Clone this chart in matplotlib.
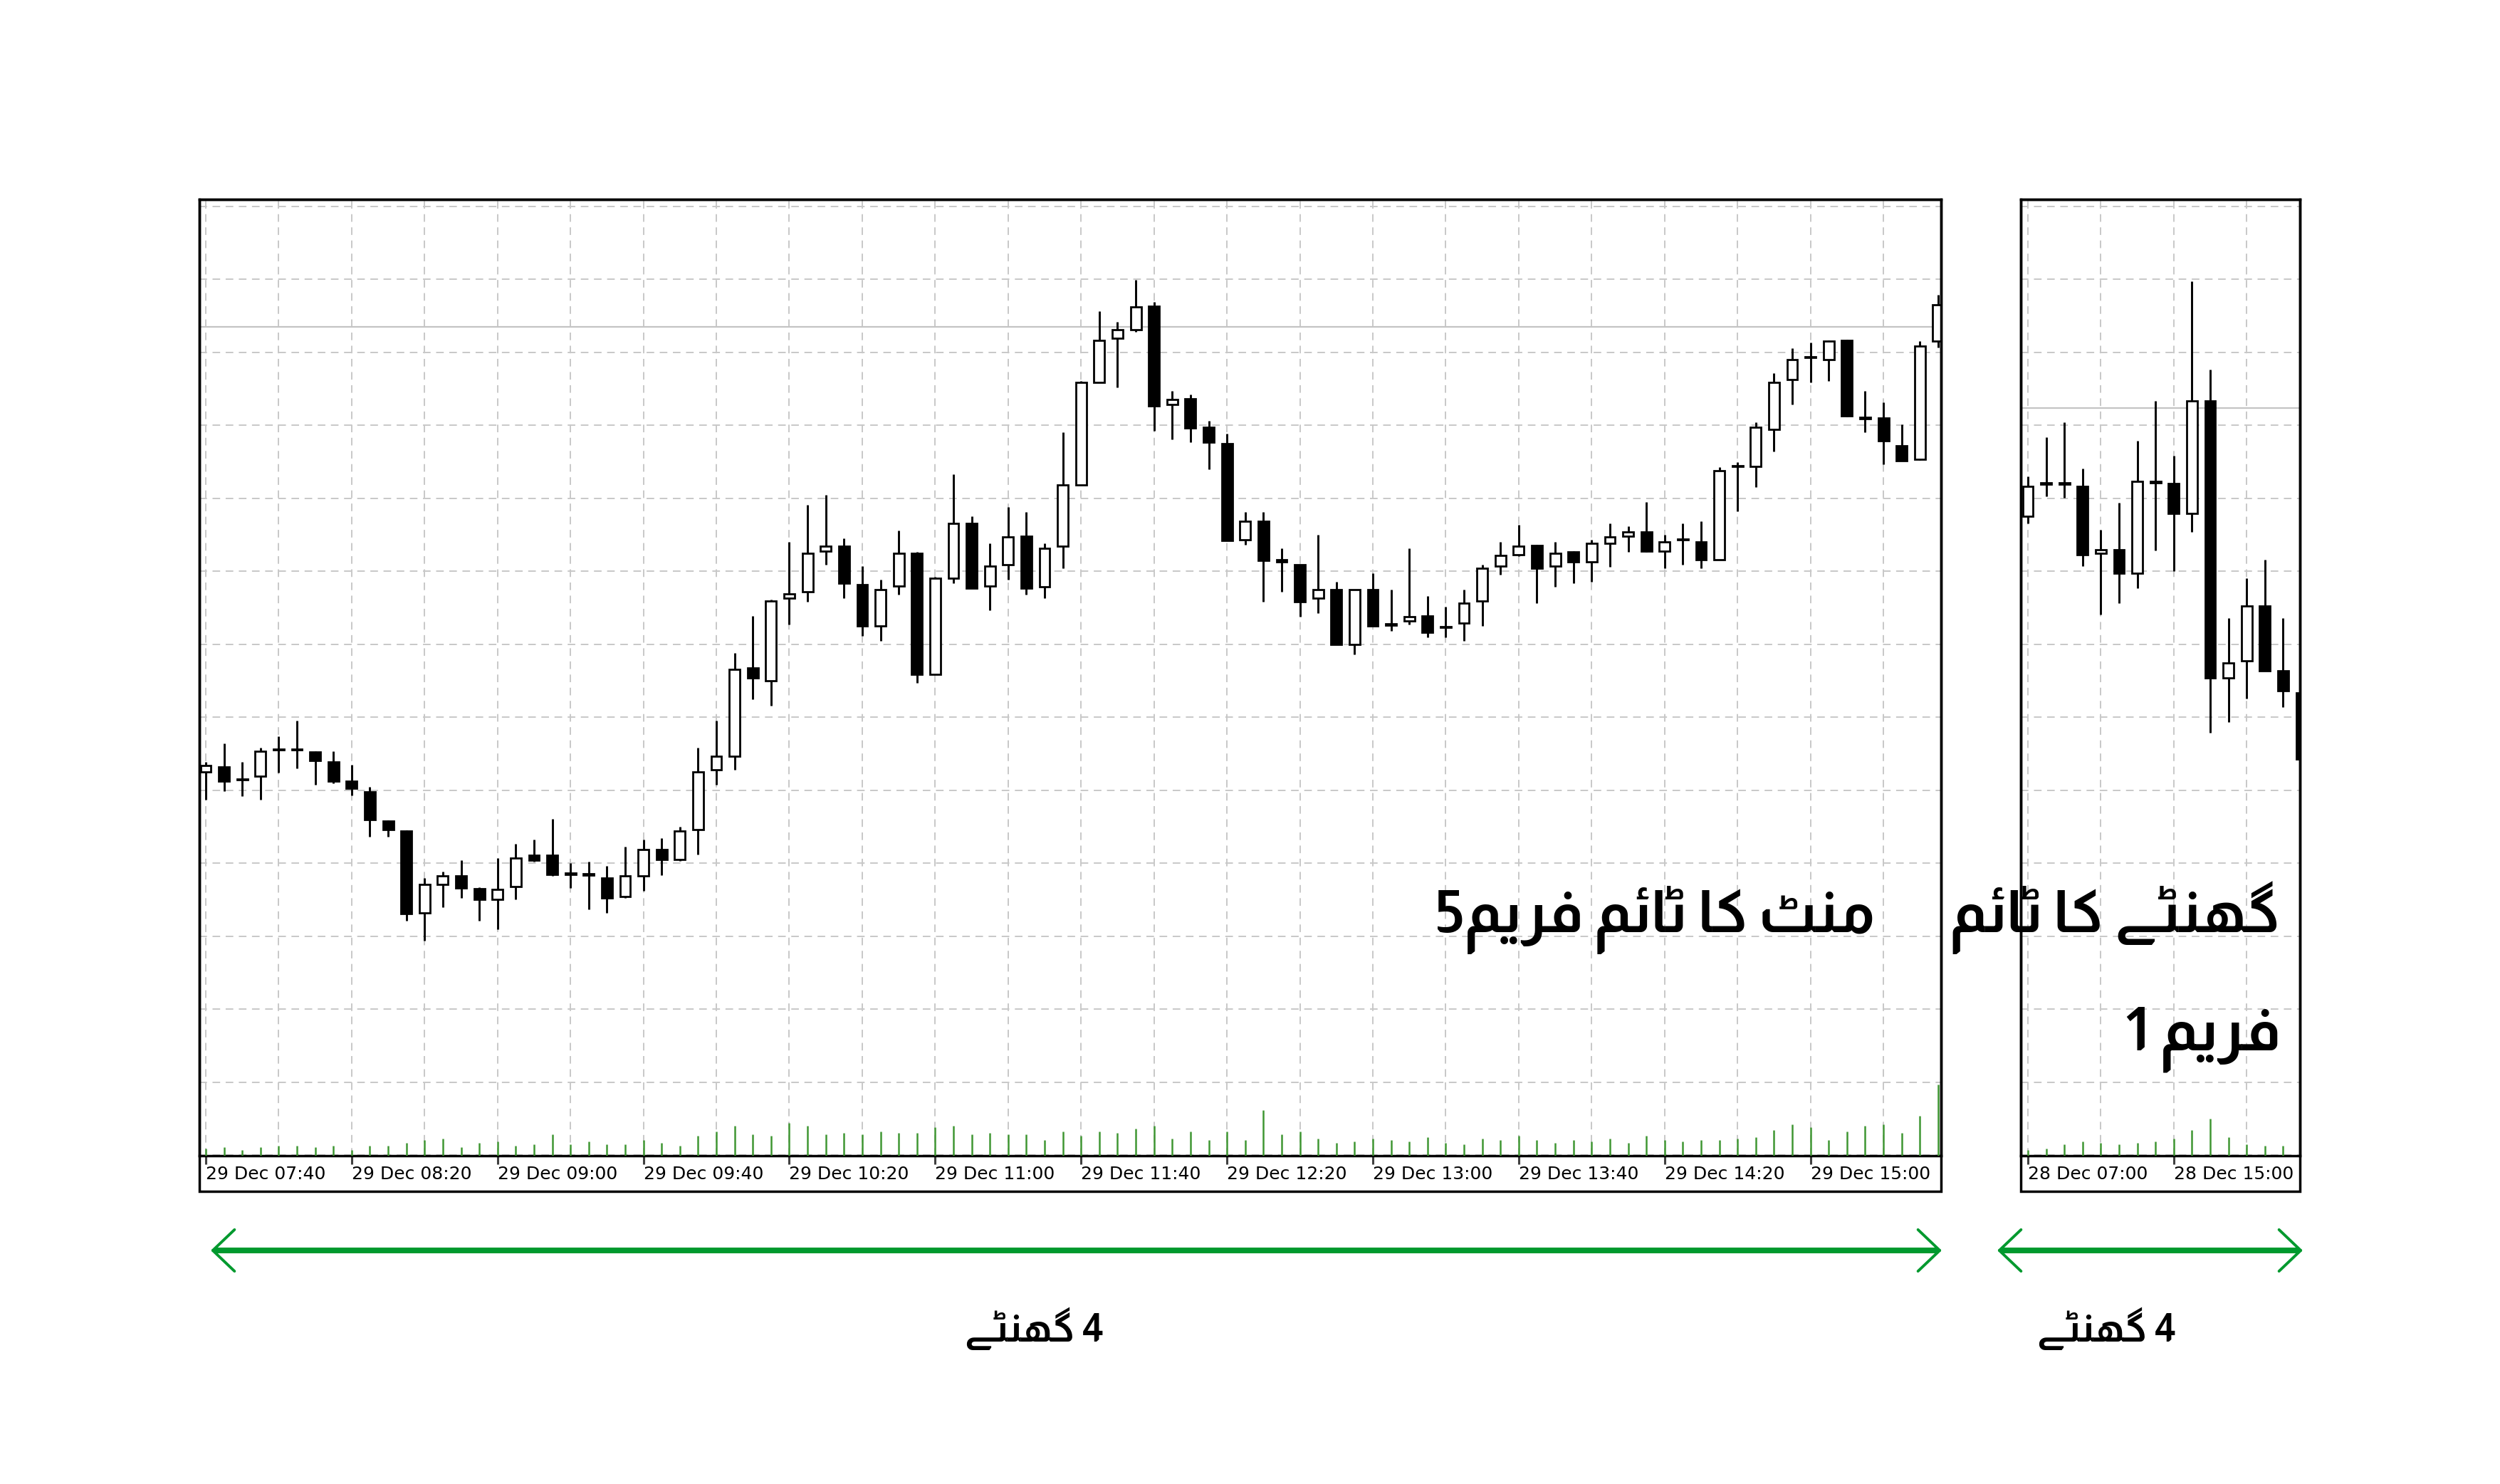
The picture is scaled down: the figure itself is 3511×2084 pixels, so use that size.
import numpy as np
import matplotlib
matplotlib.use("Agg")
import matplotlib.pyplot as plt
from matplotlib.patches import Rectangle, FancyArrowPatch
from matplotlib.lines import Line2D
from matplotlib.transforms import ScaledTranslation

# ---- data: M5 candles, 29 Dec from 07:40 (price in chart points) ----
m5_open = [840, 850, 826, 832, 886, 886, 880, 860, 822, 800,
           742, 722, 558, 615, 632, 607, 585, 610, 673, 673,
           637, 636, 628, 590, 632, 685, 665, 725, 845, 872,
           1048, 1022, 1188, 1200, 1282, 1292, 1215, 1132, 1212, 1278,
           1035, 1228, 1338, 1212, 1255, 1312, 1210, 1292, 1415, 1620,
           1708, 1725, 1772, 1575, 1587, 1530, 1497, 1305, 1342, 1265,
           1255, 1188, 1205, 1095, 1205, 1137, 1142, 1152, 1131, 1138,
           1182, 1252, 1275, 1293, 1252, 1280, 1260, 1298, 1312, 1320,
           1282, 1306, 1300, 1265, 1453, 1452, 1525, 1625, 1671, 1665,
           1703, 1549, 1548, 1493, 1465, 1702]
m5_high = [860, 897, 860, 888, 912, 942, 882, 882, 855, 810,
           743, 723, 628, 640, 663, 609, 668, 696, 705, 746,
           658, 660, 652, 690, 705, 708, 730, 888, 942, 1078,
           1152, 1185, 1300, 1375, 1395, 1307, 1252, 1225, 1323, 1280,
           1230, 1435, 1352, 1298, 1370, 1360, 1298, 1520, 1622, 1762,
           1740, 1825, 1780, 1602, 1595, 1543, 1517, 1360, 1360, 1288,
           1255, 1315, 1220, 1205, 1238, 1205, 1288, 1192, 1170, 1205,
           1255, 1300, 1335, 1295, 1300, 1282, 1305, 1338, 1332, 1380,
           1315, 1338, 1342, 1450, 1460, 1540, 1638, 1688, 1700, 1704,
           1705, 1602, 1580, 1535, 1702, 1795]
m5_low = [785, 802, 792, 785, 838, 847, 815, 817, 793, 710,
          710, 542, 502, 570, 588, 542, 525, 585, 660, 632,
          608, 565, 558, 588, 602, 634, 662, 675, 815, 845,
          985, 973, 1135, 1180, 1255, 1188, 1112, 1102, 1195, 1018,
          1035, 1218, 1208, 1163, 1225, 1195, 1188, 1248, 1414, 1619,
          1610, 1720, 1522, 1505, 1500, 1445, 1303, 1295, 1180, 1200,
          1150, 1158, 1095, 1075, 1132, 1122, 1135, 1110, 1110, 1102,
          1132, 1235, 1272, 1178, 1210, 1218, 1220, 1250, 1280, 1280,
          1248, 1255, 1248, 1264, 1362, 1410, 1482, 1575, 1620, 1622,
          1551, 1520, 1455, 1463, 1464, 1690]
m5_close = [853, 822, 824, 882, 884, 884, 863, 822, 807, 745,
            725, 557, 615, 632, 608, 585, 605, 667, 663, 635,
            635, 634, 588, 632, 685, 665, 722, 840, 872, 1045,
            1028, 1182, 1197, 1278, 1292, 1218, 1132, 1205, 1278, 1035,
            1228, 1338, 1208, 1252, 1310, 1208, 1288, 1415, 1620, 1703,
            1725, 1770, 1573, 1585, 1528, 1500, 1303, 1342, 1263, 1261,
            1180, 1205, 1095, 1205, 1132, 1134, 1150, 1120, 1129, 1178,
            1248, 1273, 1292, 1248, 1278, 1260, 1297, 1310, 1320, 1282,
            1300, 1304, 1265, 1443, 1451, 1530, 1620, 1665, 1669, 1702,
            1552, 1547, 1502, 1463, 1692, 1775]
m5_volume = [10, 12, 8, 12, 14, 14, 12, 14, 8, 14, 14, 18, 22, 24, 12, 18, 20, 14, 16, 30,
             16, 20, 16, 16, 22, 18, 14, 28, 34, 42, 30, 28, 46, 42, 30, 32, 30, 34, 32, 32,
             40, 42, 30, 32, 30, 30, 22, 34, 28, 34, 32, 38, 42, 24, 34, 22, 34, 22, 64, 30,
             34, 24, 18, 20, 24, 22, 20, 26, 18, 16, 24, 22, 28, 22, 18, 22, 20, 24, 18, 28,
             22, 20, 22, 22, 24, 26, 36, 44, 40, 22, 34, 42, 44, 32, 56, 100]
m5_bid = 1730
m5_labels = ['29 Dec 07:40', '29 Dec 08:20', '29 Dec 09:00', '29 Dec 09:40',
             '29 Dec 10:20', '29 Dec 11:00', '29 Dec 11:40', '29 Dec 12:20',
             '29 Dec 13:00', '29 Dec 13:40', '29 Dec 14:20', '29 Dec 15:00']

# ---- data: H1 candles, 28 Dec from 07:00 ----
h1_open = [1352, 1418, 1418, 1412, 1278, 1285, 1238, 1421, 1417, 1358, 1582, 1028, 1062, 1172, 1043, 998]
h1_high = [1432, 1510, 1540, 1447, 1325, 1378, 1503, 1583, 1473, 1822, 1645, 1148, 1227, 1265, 1148, 1000]
h1_low = [1338, 1392, 1388, 1252, 1155, 1178, 1208, 1283, 1242, 1320, 918, 940, 987, 1042, 970, 860]
h1_close = [1412, 1416, 1416, 1275, 1285, 1238, 1422, 1419, 1358, 1582, 1028, 1058, 1172, 1042, 1002, 865]
h1_volume = [8, 10, 16, 20, 18, 16, 18, 20, 24, 36, 52, 26, 16, 14, 14, 14]
h1_bid = 1568
h1_labels = ['28 Dec 07:00', '28 Dec 15:00']

# ---- Urdu captions, pre-shaped (presentation forms, visual order) ----
w_mint = '\uFB67\uFEE8\uFEE3'             # منٹ
w_ka = '\uFE8E\uFB90'                     # کا
w_time = '\uFEE2\uFE8B\uFE8E\uFB68'       # ٹائم
w_frame = '\uFEE2\uFBFE\uFEAE\uFED3'      # فریم
w_ghante = '\uFBAF\uFB69\uFEE8\uFBAD\uFB94'  # گھنٹے
title_m5 = '5' + w_frame + ' ' + w_time + ' ' + w_ka + ' ' + w_mint
title_h1_a = w_time + ' ' + w_ka + ' ' + w_ghante
title_h1_b = '1 ' + w_frame
span_label = w_ghante + ' 4'

W, H = 3512, 2084
fig = plt.figure(figsize=(W / 100, H / 100), dpi=100)
fig.patch.set_facecolor('white')

GREEN = '#00992e'
GRID = '#c8c8c8'
grid_levels = 1971.5 - 146.06 * np.arange(14)
body_w = 0.58


def px_box(x0, y0, x1, y1):
    return [x0 / W, 1 - y1 / H, (x1 - x0) / W, (y1 - y0) / H]


def draw_chart(rect, o, h, l, c, vol, bid, labels, xlim):
    ax = fig.add_axes(rect)
    o, h, l, c = map(np.asarray, (o, h, l, c))
    x = np.arange(len(o))

    ax.set_xlim(*xlim)
    ax.set_ylim(72.7, 1985.75)

    # grid
    ax.set_yticks(grid_levels)
    ax.set_yticklabels([])
    ax.set_xticks(np.arange(0, len(o), 8))
    ax.set_xticks(np.arange(4, len(o), 8), minor=True)
    ax.set_xticklabels(labels, fontsize=18, family='DejaVu Sans')
    for lbl in ax.get_xticklabels():
        lbl.set_horizontalalignment('left')
        lbl.set_transform(lbl.get_transform() + ScaledTranslation(0.03, 0, fig.dpi_scale_trans))
    ax.grid(True, which='both', axis='x', color=GRID, lw=1.4, ls=(0, (5.5, 4)), zorder=0)
    ax.grid(True, which='major', axis='y', color=GRID, lw=1.4, ls=(0, (5.5, 4)), zorder=0)
    ax.set_axisbelow(True)
    ax.tick_params(axis='y', length=0)
    ax.tick_params(axis='x', which='major', length=8.5, width=2.2, color='#404040', pad=2)
    ax.tick_params(axis='x', which='minor', length=0)
    for sp in ax.spines.values():
        sp.set_linewidth(2.5)
        sp.set_color('black')

    # bid line
    ax.axhline(bid, color='#c4c4c4', lw=1.6, zorder=1)

    # candles
    ax.vlines(x, l, h, color='black', lw=2.1, zorder=3)
    up = c >= o
    bottom = np.minimum(o, c)
    height = np.maximum(np.abs(c - o), 1.0)
    ax.bar(x, height, body_w, bottom, color=np.where(up, 'white', 'black'),
           edgecolor='black', lw=2.0, zorder=4)

    # tick volumes
    vax = ax.twinx()
    vax.set_ylim(0, 1342.5)
    vax.vlines(x, 0, vol, color='#3f9632', lw=1.8)
    vax.set_axis_off()
    return ax


draw_chart(px_box(280, 280, 2726, 1622.5), m5_open, m5_high, m5_low, m5_close,
           m5_volume, m5_bid, m5_labels, (-0.351, 95.16))
draw_chart(px_box(2838, 280, 3230, 1622.5), h1_open, h1_high, h1_low, h1_close,
           h1_volume, h1_bid, h1_labels, (-0.39, 14.92))

# outer frames around chart + time strip
for x0, x1 in [(280, 2726), (2838, 3230)]:
    b = px_box(x0, 280, x1, 1673)
    fig.add_artist(Rectangle((b[0], b[1]), b[2], b[3], transform=fig.transFigure,
                             fill=False, ec='black', lw=2.5, zorder=10))

# captions
urdu = dict(family=['Almarai', 'DejaVu Sans'], fontweight='bold', color='black')
fig.text(2326 / W, 1 - 1309 / H, title_m5, ha='center', va='baseline', fontsize=60, **urdu)
fig.text(3203 / W, 1 - 1309 / H, title_h1_a, ha='right', va='baseline', fontsize=60, **urdu)
fig.text(3203 / W, 1 - 1475 / H, title_h1_b, ha='right', va='baseline', fontsize=61, **urdu)

# span arrows
for x0, x1, xc in [(296, 2727, 1452), (2805, 3234, 2958)]:
    y = 1 - 1756 / H
    fig.add_artist(Line2D([(x0 + 6) / W, (x1 - 6) / W], [y, y], transform=fig.transFigure,
                          color=GREEN, lw=5.8, solid_capstyle='butt'))
    fig.add_artist(FancyArrowPatch((x0 / W, y), (x1 / W, y), transform=fig.transFigure,
                                   arrowstyle='<->,head_length=22,head_width=21',
                                   mutation_scale=1, lw=2.8, color=GREEN,
                                   shrinkA=0, shrinkB=0))
    fig.text(xc / W, 1 - 1884 / H, span_label, ha='center', va='baseline',
             fontsize=40, **urdu)

fig.savefig('out.png', dpi=100, facecolor='white')
